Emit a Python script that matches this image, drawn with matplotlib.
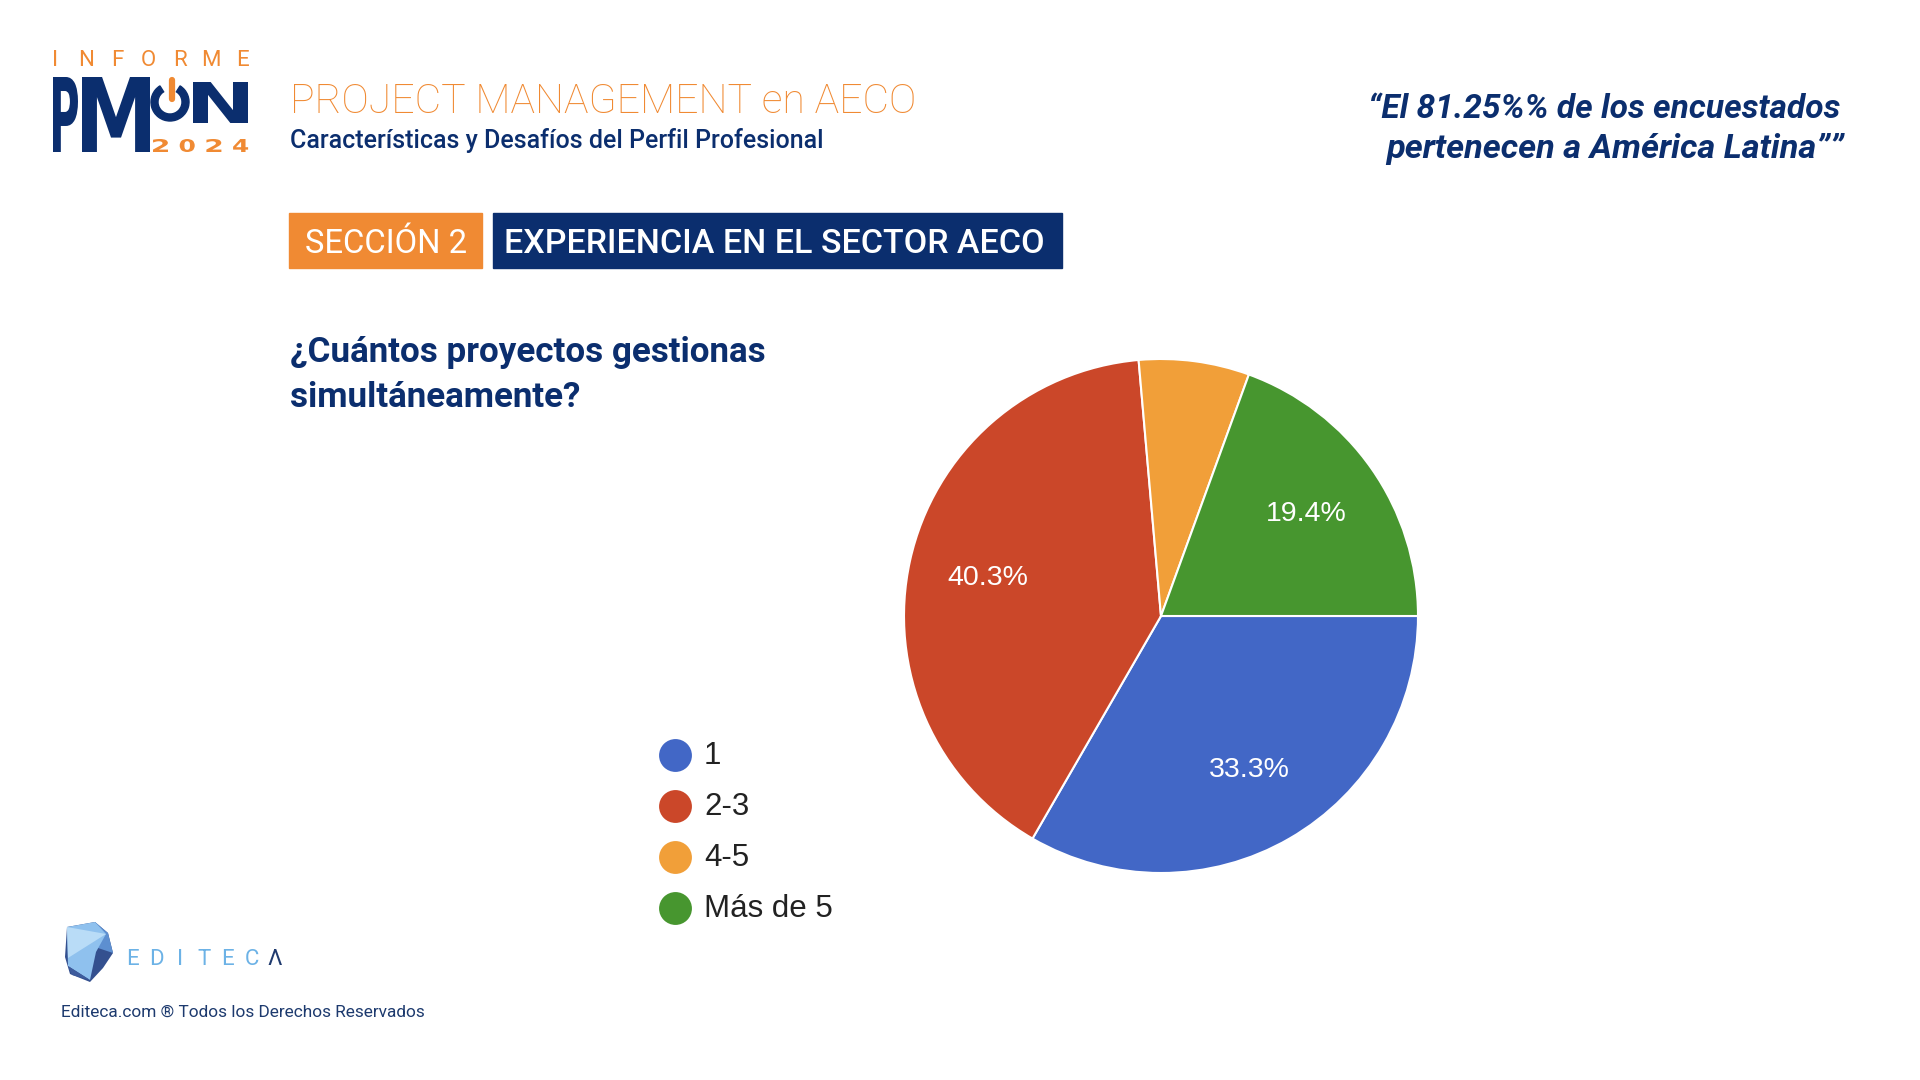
import matplotlib
matplotlib.use("Agg")
import matplotlib.pyplot as plt
from matplotlib.patches import Rectangle, Wedge, PathPatch, Polygon
from matplotlib.textpath import TextPath
from matplotlib.font_manager import FontProperties
from matplotlib.transforms import Affine2D

# data (72 answers)
categories = ["1", "2-3", "4-5", "Más de 5"]
counts = [24, 29, 5, 14]
slice_colors = ["#4267c6", "#cb4729", "#f19f39", "#47962f"]

title = "PROJECT MANAGEMENT en AECO"
subtitle = "Características y Desafíos del Perfil Profesional"
quote_lines = ["\u201cEl 81.25%% de los encuestados", "pertenecen a América Latina\u201d\u201d"]
section_num = "SECCIÓN 2"
section_name = "EXPERIENCIA EN EL SECTOR AECO"
question = ["¿Cuántos proyectos gestionas", "simultáneamente?"]
footer = "Editeca.com ® Todos los Derechos Reservados"

NAVY = "#0b2e6e"
ORANGE = "#f08a33"

fig = plt.figure(figsize=(19.2, 10.8), dpi=100)
fig.patch.set_facecolor("white")

# overlay in pixel coordinates (y down)
ax = fig.add_axes([0, 0, 1, 1])
ax.set_xlim(0, 1920)
ax.set_ylim(1080, 0)
ax.axis("off")
renderer = fig.canvas.get_renderer()


def fit_text(x, y, s, width, **kw):
    t = ax.text(x, y, s, fontsize=20, **kw)
    w = t.get_window_extent(renderer).width
    t.set_fontsize(20 * width / w)
    return t


def glyph(s, x0, x1, ytop, ybot, color, family="DejaVu Sans", weight="bold"):
    p = TextPath((0, 0), s, size=100, prop=FontProperties(family=family, weight=weight))
    e = p.get_extents()
    tr = (Affine2D().translate(-e.x0, -e.y0)
          .scale((x1 - x0) / e.width, -(ybot - ytop) / e.height)
          .translate(x0, ybot))
    ax.add_patch(PathPatch(tr.transform_path(p), facecolor=color, lw=0))


# ---- PMON logo ----
for i, ch in enumerate("INFORME"):
    ax.text(55 + i * 31.2, 66, ch, fontsize=16, family="Roboto",
            color=ORANGE, ha="center", va="baseline")
glyph("P", 53, 78, 77, 152, NAVY)
glyph("M", 82, 150, 77, 152, NAVY)
glyph("N", 193, 248, 82, 123, NAVY)
ax.add_patch(Wedge((170, 102), 19, -58, 238, width=7, color=NAVY))
ax.plot([172, 172], [80, 99], color=ORANGE, lw=4.5, solid_capstyle="round")
for i, ch in enumerate("2024"):
    x0 = 153 + i * 26.7
    glyph(ch, x0, x0 + 15, 139, 152, ORANGE)

# ---- header texts ----
fit_text(290, 113, title, 626, color=ORANGE, family="Roboto", weight="light", va="baseline")
fit_text(290, 148, subtitle, 534, color=NAVY, family="Roboto", weight="medium", va="baseline")
fit_text(1368, 118, quote_lines[0], 471, color=NAVY, family="Roboto", weight="bold",
         style="italic", va="baseline")
fit_text(1386, 158, quote_lines[1], 457, color=NAVY, family="Roboto", weight="bold",
         style="italic", va="baseline")

# ---- section tags ----
ax.add_patch(Rectangle((289, 213), 193, 55, color=ORANGE))
ax.add_patch(Rectangle((493, 213), 569, 55, color=NAVY))
fit_text(305, 253, section_num, 162, color="white", family="Roboto", va="baseline")
fit_text(504, 253, section_name, 539, color="white", family="Roboto", weight="medium", va="baseline")

# ---- question ----
q1 = fit_text(290, 362, question[0], 475, color=NAVY, family="Roboto", weight="bold", va="baseline")
ax.text(290, 407, question[1], fontsize=q1.get_fontsize(), color=NAVY, family="Roboto",
        weight="bold", va="baseline")

# ---- legend ----
for i, (lab, col) in enumerate(zip(categories, slice_colors)):
    y = 755 + 51 * i
    ax.scatter(675, y, s=560, color=col, lw=0)
    ax.text(704, y + 1, lab, fontsize=22.5, family="Liberation Sans", color="#222222", va="center")

# ---- EDITECA logo ----
ax.add_patch(Polygon([(67, 927), (95, 922), (108, 933), (113, 953), (103, 968),
                      (90, 982), (70, 974), (65, 957)], color="#34508f", lw=0))
ax.add_patch(Polygon([(95, 922), (108, 933), (113, 953), (98, 948)], color="#5d8fd0", lw=0))
ax.add_patch(Polygon([(67, 927), (95, 922), (106, 934), (96, 952), (90, 980), (68, 966)],
                     color="#8fc1ee", lw=0))
ax.add_patch(Polygon([(67, 927), (106, 934), (68, 958)], color="#b9dcf7", lw=0))
ax.add_patch(Polygon([(68, 966), (90, 980), (72, 975)], color="#3d5b9c", lw=0))
for i, ch in enumerate("EDITEC\u039b"):
    ax.text(133 + i * 23.7, 965, ch, fontsize=16, family="Roboto",
            color="#1f3a6e" if i == 6 else "#6cb2e6", ha="center", va="baseline")
fit_text(61, 1017, footer, 365, color="#1d3a6e", family="Roboto", va="baseline")

# ---- pie ----
cx, cy, r = 1161, 616, 257
pax = fig.add_axes([(cx - r) / 1920, (1080 - cy - r) / 1080, 2 * r / 1920, 2 * r / 1080])
wedges, texts, autotexts = pax.pie(
    counts, colors=slice_colors, startangle=0, counterclock=False,
    autopct=lambda p: f"{p:.1f}%" if p > 10 else "", pctdistance=0.69,
    wedgeprops=dict(edgecolor="white", linewidth=1.5),
    textprops=dict(color="white", fontsize=20.5, family="Liberation Sans"))
pax.set_xlim(-1, 1)
pax.set_ylim(-1, 1)
pax.set_aspect("equal")
for w in wedges:
    w.set_clip_on(False)

fig.savefig("out.png", dpi=100, facecolor="white")
